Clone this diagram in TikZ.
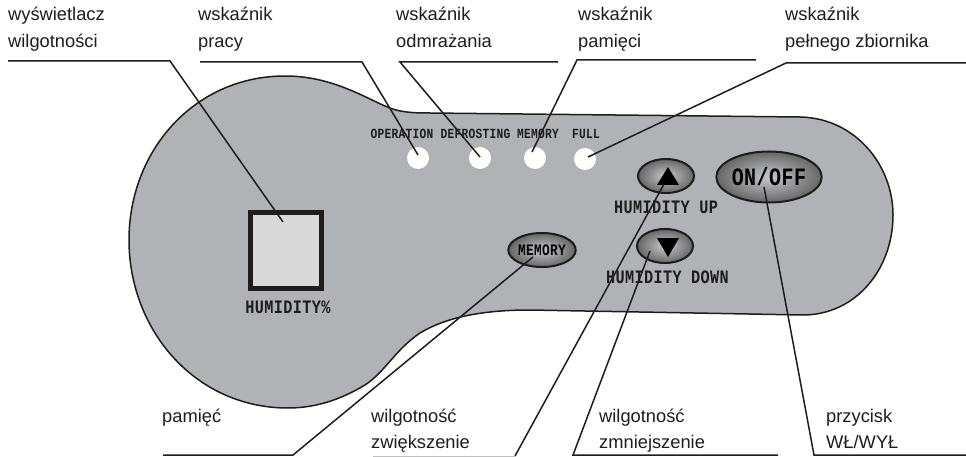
\documentclass[tikz,border=0pt]{standalone}
\usepackage{fontspec}
\setmainfont{Liberation Sans}
\newfontfamily\panelfont[FakeStretch=0.8,LetterSpace=2]{Liberation Mono}
\usepackage{xcolor}
\usepackage{tikz}
\usetikzlibrary{shapes}
\definecolor{panelgrey}{RGB}{176,178,182}
\definecolor{inkdark}{RGB}{30,28,28}
\tikzset{
	caption/.style={anchor=base west,inner sep=0pt,font=\fontsize{18.3}{20}\selectfont,text=inkdark},
	panellabel/.style={inner sep=0pt,font=\panelfont\bfseries\fontsize{19}{20}\selectfont,text=inkdark},
	ledlabel/.style={inner sep=0pt,font=\panelfont\bfseries\fontsize{14}{16}\selectfont,text=inkdark},
	led/.style={circle,fill=white,minimum size=22pt,inner sep=0pt},
	knob/.style={ellipse,draw=inkdark,line width=2pt,inner color=panelgrey!70!white,outer color=black!60,inner sep=0pt},
	leader/.style={draw=inkdark,line width=1.5pt}
}
\begin{document}
\begin{tikzpicture}[x=1pt,y=-1pt]
		\useasboundingbox (0,0) rectangle (966,457);
		% panel
		\draw[fill=panelgrey,draw=inkdark,line width=1.5pt]
		(285,76) .. controls (330,76) and (362,96) .. (385,106)
		.. controls (398,112) and (410,113) .. (430,113)
		-- (800,117) .. controls (855,118) and (893,165) .. (893,215)
		.. controls (893,270) and (855,315) .. (803,315)
		-- (530,310) .. controls (480,310) and (445,318) .. (420,333)
		.. controls (395,350) and (385,372) .. (365,385)
		.. controls (340,400) and (315,408) .. (288,408)
		.. controls (195,408) and (129,330) .. (129,240)
		.. controls (129,150) and (195,76) .. (285,76) -- cycle;
		%
		\node[draw=inkdark,line width=5pt,fill=black!15,minimum width=71pt,minimum height=76pt,inner sep=0pt] (display) at (286,250.5) {};
		\node[panellabel] (humidity) at (288,307.5) {HUMIDITY\%};
		\node[ledlabel] (operationtext) at (402,134) {OPERATION};
		\node[ledlabel] (defrostingtext) at (475.5,134) {DEFROSTING};
		\node[ledlabel] (memorytext) at (538,134) {MEMORY};
		\node[ledlabel] (fulltext) at (586,134) {FULL};
		\node[led] (operation) at (418,158) {};
		\node[led] (defrosting) at (480,158) {};
		\node[led] (memoryled) at (535,158) {};
		\node[led] (full) at (585,159) {};
		\node[knob,minimum width=94pt,minimum height=51pt,font=\panelfont\bfseries\fontsize{25}{25}\selectfont] (onoff) at (769,177) {ON/OFF};
		\node[knob,minimum width=56pt,minimum height=34pt] (up) at (666,176) {};
		\node[knob,minimum width=56pt,minimum height=34pt] (down) at (665,246) {};
		\node[knob,minimum width=56pt,minimum height=34pt,font=\panelfont\bfseries\fontsize{16}{16}\selectfont] (memorybtn) at (542,250) {MEMORY};
		\fill[black] (657,185) -- (668,167) -- (679,185) -- cycle;
		\fill[black] (657,238) -- (679,238) -- (668,257) -- cycle;
		\node[panellabel] (uptext) at (666,207) {HUMIDITY UP};
		\node[panellabel] (downtext) at (667.5,277) {HUMIDITY DOWN};
		%
		\node[caption] (c1a) at (8,21) {wyświetlacz};
		\node[caption] (c1b) at (8,48) {wilgotności};
		\node[caption] (c2a) at (198,21) {wskaźnik};
		\node[caption] (c2b) at (198,48) {pracy};
		\node[caption] (c3a) at (396,21) {wskaźnik};
		\node[caption] (c3b) at (396,48) {odmrażania};
		\node[caption] (c4a) at (578,21) {wskaźnik};
		\node[caption] (c4b) at (578,48) {pamięci};
		\node[caption] (c5a) at (785,21) {wskaźnik};
		\node[caption] (c5b) at (785,48) {pełnego zbiornika};
		\node[caption] (c6) at (162,422) {pamięć};
		\node[caption] (c7a) at (371,422) {wilgotność};
		\node[caption] (c7b) at (371,448) {zwiększenie};
		\node[caption] (c8a) at (599,422) {wilgotność};
		\node[caption] (c8b) at (599,448) {zmniejszenie};
		\node[caption] (c9a) at (826,422) {przycisk};
		\node[caption] (c9b) at (826,448) {WŁ/WYŁ};
		%
		\coordinate (a1) at (8,61);
		\coordinate (a2) at (170,61);
		\coordinate (a3) at (283,222);
		\coordinate (b1) at (200,62);
		\coordinate (b2) at (362,62);
		\coordinate (b3) at (418,155);
		\coordinate (d1) at (558,62);
		\coordinate (d2) at (400,62);
		\coordinate (d3) at (480,157);
		\coordinate (e1) at (756,60);
		\coordinate (e2) at (577,60);
		\coordinate (e3) at (532,152);
		\coordinate (f1) at (966,63);
		\coordinate (f2) at (786,63);
		\coordinate (f3) at (588,157);
		\coordinate (g1) at (163,455);
		\coordinate (g2) at (293,455);
		\coordinate (g3) at (533,257);
		\coordinate (h1) at (373,456);
		\coordinate (h2) at (515,456);
		\coordinate (h3) at (664,184);
		\coordinate (i1) at (778,455);
		\coordinate (i2) at (573,455);
		\coordinate (i3) at (650,251);
		\coordinate (j1) at (966,455);
		\coordinate (j2) at (814,455);
		\coordinate (j3) at (764,187);
		\path[leader]
		(a1) -- (a2) -- (a3)
		(b1) -- (b2) -- (b3)
		(d1) -- (d2) -- (d3)
		(e1) -- (e2) -- (e3)
		(f1) -- (f2) -- (f3)
		(g1) -- (g2) -- (g3)
		(h2) -- (h3)
		(i1) -- (i2) -- (i3)
		(j1) -- (j2) -- (j3);
		\draw[black!25,line width=1pt] (h1) -- (h2);
		\end{tikzpicture}
\end{document}
